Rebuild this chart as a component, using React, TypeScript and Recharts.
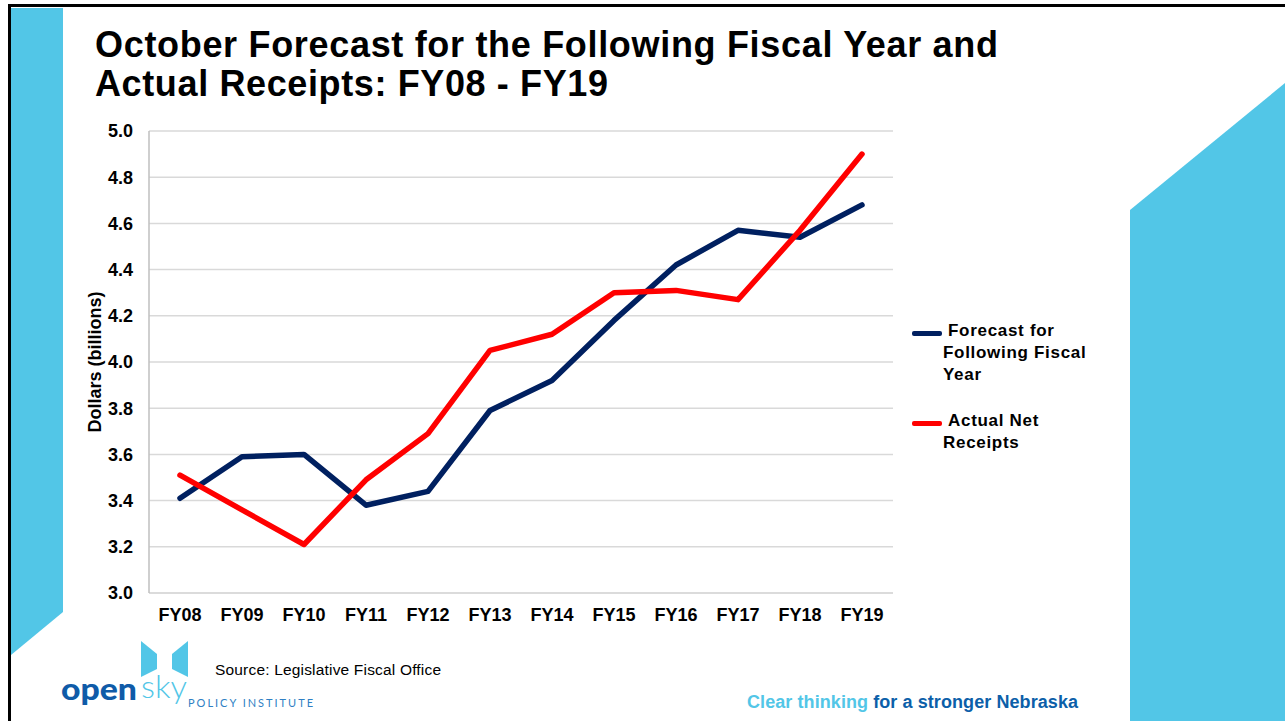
import React from 'react';
import { LineChart, Line, XAxis, YAxis, CartesianGrid, Legend } from 'recharts';

const years = ['FY08', 'FY09', 'FY10', 'FY11', 'FY12', 'FY13', 'FY14', 'FY15', 'FY16', 'FY17', 'FY18', 'FY19'];
const forecast = [3.41, 3.59, 3.6, 3.38, 3.44, 3.79, 3.92, 4.18, 4.42, 4.57, 4.54, 4.68];
const actual = [3.51, 3.36, 3.21, 3.49, 3.69, 4.05, 4.12, 4.3, 4.31, 4.27, 4.57, 4.9];
const yTicks = [3.0, 3.2, 3.4, 3.6, 3.8, 4.0, 4.2, 4.4, 4.6, 4.8, 5.0];

const titleLines = ['October Forecast for the Following Fiscal Year and', 'Actual Receipts: FY08 - FY19'];
const seriesNames = ['Forecast for Following Fiscal Year', 'Actual Net Receipts'];
// how the legend text wraps in the original
const legendLines = [['Forecast for', 'Following Fiscal', 'Year'], ['Actual Net', 'Receipts']];
const yLabel = 'Dollars (billions)';
const source = 'Source: Legislative Fiscal Office';

const FONT = '"Liberation Sans", Arial, Helvetica, sans-serif';
const CYAN = '#52c6e7';
const NAVY = '#002060';
const RED = '#ff0000';

const data = years.map((year, i) => ({ year, forecast: forecast[i], actual: actual[i] }));

function renderLegend(props: any) {
  const payload = [...(props.payload || [])].sort(
    (a: any, b: any) => seriesNames.indexOf(a.value) - seriesNames.indexOf(b.value)
  );
  return (
    <div style={{ fontFamily: FONT, fontWeight: 700, fontSize: 17, lineHeight: '22px', letterSpacing: 0.7, color: '#000' }}>
      {payload.map((p: any, i: number) => {
        const idx = seriesNames.indexOf(p.value);
        const lines = legendLines[idx] || [p.value];
        return (
          <div key={p.value} style={{ position: 'relative', paddingLeft: 31, marginBottom: i === 0 ? 24 : 0, whiteSpace: 'nowrap' }}>
            <span style={{ position: 'absolute', left: 0, top: 11, width: 30, height: 4.5, borderRadius: 2, background: p.color }} />
            {lines.map((l: string, j: number) => (
              <div key={j} style={{ paddingLeft: j === 0 ? 5 : 0 }}>{l}</div>
            ))}
          </div>
        );
      })}
    </div>
  );
}

function YLabel() {
  return (
    <text
      transform="translate(101, 362) rotate(-90)"
      textAnchor="middle"
      fontFamily={FONT}
      fontWeight={700}
      fontSize={18}
      fill="#000"
    >
      {yLabel}
    </text>
  );
}

function Decorations() {
  return (
    <svg width={1285} height={721} style={{ position: 'absolute', left: 0, top: 0 }}>
      <rect x={0} y={0} width={1285} height={721} fill="#fff" />
      {/* left strip */}
      <polygon points="11,8 63,8 63,612 11,655" fill={CYAN} />
      {/* right block */}
      <polygon points="1130,210 1285,83 1285,721 1130,721" fill={CYAN} />
      {/* frame */}
      <rect x={8} y={4} width={1277} height={3} fill="#000" />
      <rect x={8} y={4} width={3} height={717} fill="#000" />
      {/* title */}
      <text fontFamily={FONT} fontWeight={700} fontSize={36} fill="#000">
        <tspan x={95} y={57} textLength={903} lengthAdjust="spacing">{titleLines[0]}</tspan>
        <tspan x={95} y={96} textLength={513} lengthAdjust="spacing">{titleLines[1]}</tspan>
      </text>
      {/* source */}
      <text x={215} y={675} fontFamily={FONT} fontSize={15.5} fill="#000" textLength={226} lengthAdjust="spacing">{source}</text>
      {/* logo */}
      <polygon points="141,641 157,654 157,669 141,677" fill={CYAN} />
      <polygon points="188,641 172,654 172,669 188,677" fill={CYAN} />
      <text x={61} y={700} fontFamily="Lato, sans-serif" fontWeight={900} fontSize={31} fill="#0f5ba8" textLength={76} lengthAdjust="spacingAndGlyphs">open</text>
      <text x={141} y={698} fontFamily="Lato, sans-serif" fontWeight={300} fontSize={32} fill={CYAN} textLength={46} lengthAdjust="spacingAndGlyphs">sky</text>
      <text x={188} y={707} fontFamily="Lato, sans-serif" fontWeight={400} fontSize={11} fill="#2f7fc4" textLength={125} lengthAdjust="spacing">POLICY INSTITUTE</text>
      {/* tagline */}
      <text x={747} y={708} fontFamily={FONT} fontWeight={700} fontSize={18} textLength={331} lengthAdjust="spacing">
        <tspan fill={CYAN}>Clear thinking </tspan>
        <tspan fill="#0c5fa9">for a stronger Nebraska</tspan>
      </text>
    </svg>
  );
}

export default function App() {
  const tickStyle = { fill: '#000', fontSize: 18, fontWeight: 700, fontFamily: FONT };
  return (
    <div style={{ position: 'absolute', left: 0, top: 0, width: 1285, height: 721, overflow: 'hidden', background: '#fff' }}>
      <Decorations />
      <div style={{ position: 'absolute', left: 0, top: 0 }}>
        <LineChart width={1285} height={721} data={data} margin={{ top: 131, right: 392, bottom: 98, left: 0 }}>
          <CartesianGrid vertical={false} stroke="#d9d9d9" strokeWidth={1.5} />
          <XAxis
            dataKey="year"
            interval={0}
            height={30}
            padding={{ left: 31, right: 31 }}
            axisLine={{ stroke: '#d9d9d9', strokeWidth: 1.5 }}
            tickLine={false}
            tickSize={6}
            tickMargin={9}
            tick={tickStyle}
          />
          <YAxis
            width={149}
            domain={[3, 5]}
            ticks={yTicks}
            interval={0}
            tickFormatter={(v: number) => v.toFixed(1)}
            axisLine={{ stroke: '#bfbfbf', strokeWidth: 1.5 }}
            tickLine={false}
            tickSize={6}
            tickMargin={10}
            tick={tickStyle}
            label={{ content: () => <YLabel /> }}
          />
          <Legend
            layout="vertical"
            align="center"
            verticalAlign="middle"
            wrapperStyle={{ left: 912, top: 320, width: 190 }}
            content={renderLegend}
          />
          <Line
            type="linear"
            dataKey="forecast"
            name={seriesNames[0]}
            stroke={NAVY}
            strokeWidth={5.5}
            strokeLinejoin="round"
            strokeLinecap="round"
            dot={false}
            activeDot={false}
            isAnimationActive={false}
          />
          <Line
            type="linear"
            dataKey="actual"
            name={seriesNames[1]}
            stroke={RED}
            strokeWidth={5.5}
            strokeLinejoin="round"
            strokeLinecap="round"
            dot={false}
            activeDot={false}
            isAnimationActive={false}
          />
        </LineChart>
      </div>
    </div>
  );
}
